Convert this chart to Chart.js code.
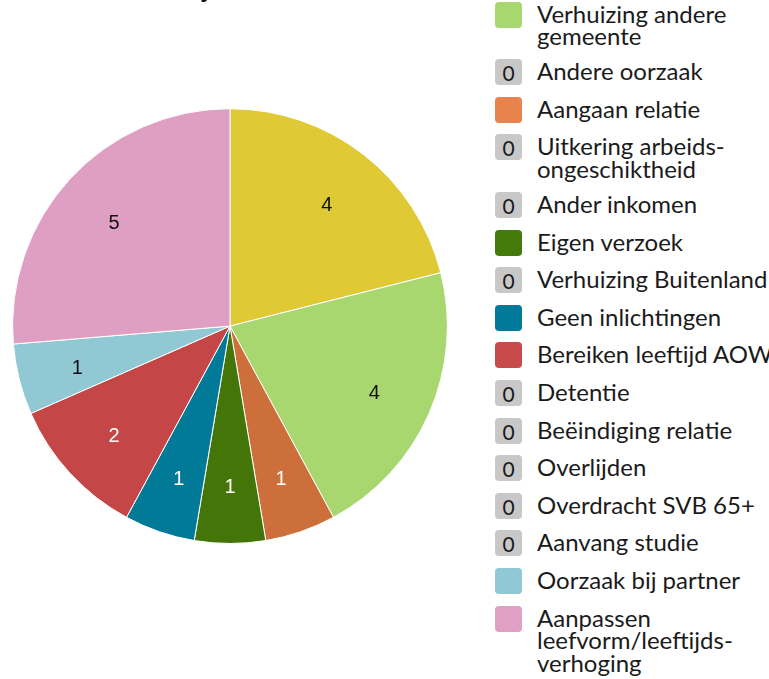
<!DOCTYPE html>
<html><head><meta charset="utf-8">
<script src="https://cdn.jsdelivr.net/npm/chart.js@4.4.0/dist/chart.umd.min.js"></script>
<style>
html,body{margin:0;padding:0;background:#fff;overflow:hidden;width:769px;height:679px;}
#wrap{position:relative;width:769px;height:679px;overflow:hidden;}
#c{position:absolute;left:0;top:-38px;}
#legend{position:absolute;left:495px;top:-36px;font-family:Lato, sans-serif;font-size:24px;color:#1b1b1b;white-space:nowrap;}
.item{display:flex;align-items:flex-start;margin-bottom:11.6px;}
.box{flex:none;width:27px;height:26px;border-radius:4px;font-size:21px;line-height:27px;text-align:center;color:#1a1a1a;}
.txt{margin-left:15px;line-height:22.5px;padding-top:1px;}
</style></head><body>
<div id="wrap"><canvas id="c" width="460" height="582"></canvas><div id="legend"></div></div>
<script>
const chartTitle = 'Uitstroom bijstand naar reden';
const categories = [
  'Werkaanvaarding',
  ['Verhuizing andere', 'gemeente'],
  'Andere oorzaak',
  'Aangaan relatie',
  ['Uitkering arbeids-', 'ongeschiktheid'],
  'Ander inkomen',
  'Eigen verzoek',
  'Verhuizing Buitenland',
  'Geen inlichtingen',
  'Bereiken leeftijd AOW',
  'Detentie',
  'Beëindiging relatie',
  'Overlijden',
  'Overdracht SVB 65+',
  'Aanvang studie',
  'Oorzaak bij partner',
  ['Aanpassen', 'leefvorm/leeftijds-', 'verhoging']
];
const values = [4, 4, 0, 1, 0, 0, 1, 0, 1, 2, 0, 0, 0, 0, 0, 1, 5];
const sliceColors = ['#dfca35', '#a8d770', '#c8c8c8', '#cc6f3a', '#c8c8c8', '#c8c8c8', '#437508', '#c8c8c8',
  '#007a97', '#c44646', '#c8c8c8', '#c8c8c8', '#c8c8c8', '#c8c8c8', '#c8c8c8', '#90c8d4', '#de9fc2'];
const legendColors = ['#dfca35', '#a8d770', '#c8c8c8', '#e8834e', '#c8c8c8', '#c8c8c8', '#447a0a', '#c8c8c8',
  '#007a98', '#c94a4a', '#c8c8c8', '#c8c8c8', '#c8c8c8', '#c8c8c8', '#c8c8c8', '#91c8d5', '#dfa0c3'];

function lum(hex){
  const n = parseInt(hex.slice(1), 16);
  return 0.2126 * (n >> 16) + 0.7152 * ((n >> 8) & 255) + 0.0722 * (n & 255);
}

const sliceLabels = {
  id: 'sliceLabels',
  afterDatasetsDraw(chart) {
    const ctx = chart.ctx;
    const meta = chart.getDatasetMeta(0);
    const ds = chart.data.datasets[0];
    ctx.save();
    ctx.font = '20px "Liberation Sans", Arial, sans-serif';
    ctx.textAlign = 'center';
    ctx.textBaseline = 'middle';
    meta.data.forEach((arc, i) => {
      const v = ds.data[i];
      if (!v) return;
      const p = arc.getProps(['x', 'y', 'startAngle', 'endAngle', 'outerRadius'], true);
      const mid = (p.startAngle + p.endAngle) / 2;
      const r = p.outerRadius * 0.725;
      ctx.fillStyle = lum(ds.backgroundColor[i]) > 150 ? '#111' : '#fff';
      ctx.fillText(String(v), p.x + Math.cos(mid) * r, p.y + Math.sin(mid) * r + 4);
    });
    ctx.restore();
  }
};

const htmlLegend = {
  id: 'htmlLegend',
  afterUpdate(chart) {
    const el = document.getElementById('legend');
    el.innerHTML = '';
    const ds = chart.data.datasets[0];
    chart.data.labels.forEach((lab, i) => {
      const item = document.createElement('div');
      item.className = 'item';
      const box = document.createElement('div');
      box.className = 'box';
      box.style.background = ds.data[i] === 0 ? '#c8c8c8' : legendColors[i];
      if (ds.data[i] === 0) box.textContent = '0';
      const txt = document.createElement('div');
      txt.className = 'txt';
      (Array.isArray(lab) ? lab : [lab]).forEach((line, k) => {
        if (k) txt.appendChild(document.createElement('br'));
        txt.appendChild(document.createTextNode(line));
      });
      item.appendChild(box);
      item.appendChild(txt);
      el.appendChild(item);
    });
  }
};

new Chart(document.getElementById('c'), {
  type: 'pie',
  data: {
    labels: categories,
    datasets: [{
      data: values,
      backgroundColor: sliceColors,
      borderColor: '#ffffff',
      borderWidth: 1
    }]
  },
  options: {
    responsive: false,
    maintainAspectRatio: false,
    animation: false,
    devicePixelRatio: 1,
    layout: { padding: 0 },
    plugins: {
      legend: { display: false },
      tooltip: { enabled: false },
      title: {
        display: true,
        text: chartTitle,
        color: '#111',
        font: { family: 'Lato', size: 26, weight: 'bold', lineHeight: 1.2 },
        padding: { top: 12, bottom: 103 }
      }
    }
  },
  plugins: [sliceLabels, htmlLegend]
});
</script>
</body></html>
